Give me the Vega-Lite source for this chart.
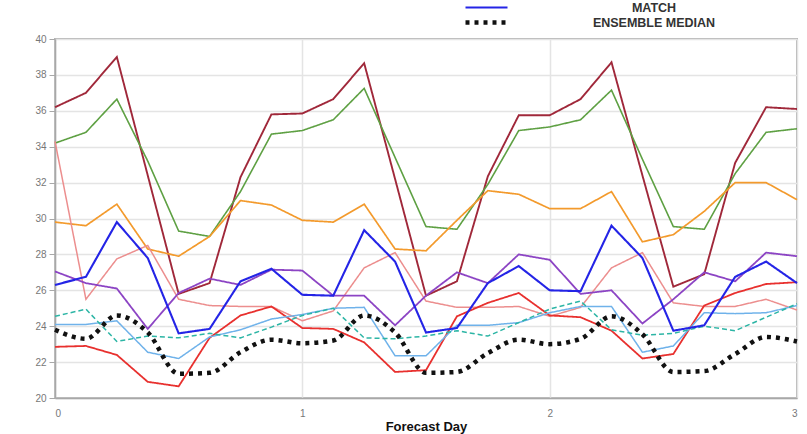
{
  "$schema": "https://vega.github.io/schema/vega-lite/v6.json",
  "width": 742,
  "height": 359,
  "autosize": {"type": "none"},
  "padding": {"left": 55, "top": 39, "right": 10, "bottom": 36},
  "background": "white",
  "config": {
    "font": "Liberation Sans",
    "view": {"stroke": "#b4b4b4", "strokeWidth": 2},
    "axis": {
      "gridColor": "#e4e4e4",
      "gridWidth": 1.5,
      "domainColor": "#a8a8a8",
      "domainWidth": 1.5,
      "tickColor": "#a8a8a8",
      "labelColor": "#777777",
      "labelFontSize": 10
    },
    "legend": {
      "title": null,
      "orient": "none",
      "legendX": 408,
      "legendY": -39,
      "padding": 0,
      "rowPadding": 0,
      "clipHeight": 15,
      "symbolType": "stroke",
      "symbolSize": 1764,
      "labelAlign": "center",
      "labelOffset": 144,
      "labelFont": "Liberation Sans",
      "labelFontSize": 12.5,
      "labelFontWeight": "bold",
      "labelColor": "#333333"
    }
  },
  "data": {
    "values": [
      {"day": 0.0,   "Run 1": 36.2,  "Run 2": 34.2,  "Run 3": 29.8,  "Run 4": 34.3,  "MATCH": 26.3,  "Run 5": 27.05, "Run 6": 22.85, "Run 7": 24.1,  "Run 8": 24.55, "ENSEMBLE MEDIAN": 23.8},
      {"day": 0.125, "Run 1": 37.0,  "Run 2": 34.8,  "Run 3": 29.6,  "Run 4": 25.5,  "MATCH": 26.75, "Run 5": 26.4,  "Run 6": 22.9,  "Run 7": 24.1,  "Run 8": 24.95, "ENSEMBLE MEDIAN": 23.3},
      {"day": 0.25,  "Run 1": 39.0,  "Run 2": 36.65, "Run 3": 30.8,  "Run 4": 27.75, "MATCH": 29.8,  "Run 5": 26.1,  "Run 6": 22.4,  "Run 7": 24.3,  "Run 8": 23.15, "ENSEMBLE MEDIAN": 24.6},
      {"day": 0.375, "Run 1": 32.4,  "Run 2": 33.2,  "Run 3": 28.3,  "Run 4": 28.5,  "MATCH": 27.8,  "Run 5": 23.85, "Run 6": 20.9,  "Run 7": 22.55, "Run 8": 23.45, "ENSEMBLE MEDIAN": 23.65},
      {"day": 0.5,   "Run 1": 25.8,  "Run 2": 29.3,  "Run 3": 27.9,  "Run 4": 25.5,  "MATCH": 23.6,  "Run 5": 25.85, "Run 6": 20.65, "Run 7": 22.2,  "Run 8": 23.35, "ENSEMBLE MEDIAN": 21.35},
      {"day": 0.625, "Run 1": 26.4,  "Run 2": 29.0,  "Run 3": 29.0,  "Run 4": 25.15, "MATCH": 23.85, "Run 5": 26.65, "Run 6": 23.35, "Run 7": 23.4,  "Run 8": 23.6,  "ENSEMBLE MEDIAN": 21.4},
      {"day": 0.75,  "Run 1": 32.3,  "Run 2": 31.5,  "Run 3": 31.0,  "Run 4": 25.1,  "MATCH": 26.5,  "Run 5": 26.3,  "Run 6": 24.6,  "Run 7": 23.8,  "Run 8": 23.35, "ENSEMBLE MEDIAN": 22.55},
      {"day": 0.875, "Run 1": 35.8,  "Run 2": 34.7,  "Run 3": 30.75, "Run 4": 25.1,  "MATCH": 27.2,  "Run 5": 27.15, "Run 6": 25.1,  "Run 7": 24.4,  "Run 8": 23.95, "ENSEMBLE MEDIAN": 23.25},
      {"day": 1.0,   "Run 1": 35.85, "Run 2": 34.9,  "Run 3": 29.9,  "Run 4": 24.3,  "MATCH": 25.75, "Run 5": 27.1,  "Run 6": 23.9,  "Run 7": 24.65, "Run 8": 24.6,  "ENSEMBLE MEDIAN": 23.05},
      {"day": 1.125, "Run 1": 36.65, "Run 2": 35.5,  "Run 3": 29.8,  "Run 4": 24.85, "MATCH": 25.7,  "Run 5": 25.7,  "Run 6": 23.85, "Run 7": 25.0,  "Run 8": 25.0,  "ENSEMBLE MEDIAN": 23.2},
      {"day": 1.25,  "Run 1": 38.65, "Run 2": 37.25, "Run 3": 30.8,  "Run 4": 27.25, "MATCH": 29.35, "Run 5": 25.7,  "Run 6": 23.1,  "Run 7": 25.05, "Run 8": 23.35, "ENSEMBLE MEDIAN": 24.6},
      {"day": 1.375, "Run 1": 32.2,  "Run 2": 33.4,  "Run 3": 28.3,  "Run 4": 28.1,  "MATCH": 27.6,  "Run 5": 24.05, "Run 6": 21.45, "Run 7": 22.35, "Run 8": 23.3,  "ENSEMBLE MEDIAN": 23.65},
      {"day": 1.5,   "Run 1": 25.7,  "Run 2": 29.55, "Run 3": 28.2,  "Run 4": 25.4,  "MATCH": 23.65, "Run 5": 25.7,  "Run 6": 21.55, "Run 7": 22.35, "Run 8": 23.45, "ENSEMBLE MEDIAN": 21.4},
      {"day": 1.625, "Run 1": 26.5,  "Run 2": 29.4,  "Run 3": 29.9,  "Run 4": 25.05, "MATCH": 23.9,  "Run 5": 27.0,  "Run 6": 24.55, "Run 7": 24.05, "Run 8": 23.75, "ENSEMBLE MEDIAN": 21.45},
      {"day": 1.75,  "Run 1": 32.35, "Run 2": 31.9,  "Run 3": 31.55, "Run 4": 25.05, "MATCH": 26.4,  "Run 5": 26.4,  "Run 6": 25.3,  "Run 7": 24.05, "Run 8": 23.45, "ENSEMBLE MEDIAN": 22.5},
      {"day": 1.875, "Run 1": 35.75, "Run 2": 34.9,  "Run 3": 31.35, "Run 4": 25.1,  "MATCH": 27.35, "Run 5": 28.0,  "Run 6": 25.85, "Run 7": 24.2,  "Run 8": 24.2,  "ENSEMBLE MEDIAN": 23.25},
      {"day": 2.0,   "Run 1": 35.75, "Run 2": 35.1,  "Run 3": 30.55, "Run 4": 24.55, "MATCH": 26.0,  "Run 5": 27.7,  "Run 6": 24.6,  "Run 7": 24.75, "Run 8": 24.95, "ENSEMBLE MEDIAN": 23.0},
      {"day": 2.125, "Run 1": 36.65, "Run 2": 35.5,  "Run 3": 30.55, "Run 4": 25.05, "MATCH": 25.95, "Run 5": 25.8,  "Run 6": 24.5,  "Run 7": 25.1,  "Run 8": 25.4,  "ENSEMBLE MEDIAN": 23.3},
      {"day": 2.25,  "Run 1": 38.7,  "Run 2": 37.15, "Run 3": 31.5,  "Run 4": 27.25, "MATCH": 29.6,  "Run 5": 26.0,  "Run 6": 23.75, "Run 7": 25.1,  "Run 8": 23.8,  "ENSEMBLE MEDIAN": 24.55},
      {"day": 2.375, "Run 1": 32.4,  "Run 2": 33.3,  "Run 3": 28.7,  "Run 4": 28.1,  "MATCH": 27.8,  "Run 5": 24.15, "Run 6": 22.2,  "Run 7": 22.55, "Run 8": 23.5,  "ENSEMBLE MEDIAN": 23.55},
      {"day": 2.5,   "Run 1": 26.2,  "Run 2": 29.55, "Run 3": 29.1,  "Run 4": 25.3,  "MATCH": 23.75, "Run 5": 25.5,  "Run 6": 22.45, "Run 7": 22.9,  "Run 8": 23.6,  "ENSEMBLE MEDIAN": 21.45},
      {"day": 2.625, "Run 1": 26.9,  "Run 2": 29.4,  "Run 3": 30.4,  "Run 4": 25.1,  "MATCH": 24.05, "Run 5": 27.0,  "Run 6": 25.15, "Run 7": 24.75, "Run 8": 24.0,  "ENSEMBLE MEDIAN": 21.5},
      {"day": 2.75,  "Run 1": 33.1,  "Run 2": 32.5,  "Run 3": 32.0,  "Run 4": 25.1,  "MATCH": 26.75, "Run 5": 26.5,  "Run 6": 25.85, "Run 7": 24.7,  "Run 8": 23.75, "ENSEMBLE MEDIAN": 22.45},
      {"day": 2.875, "Run 1": 36.2,  "Run 2": 34.8,  "Run 3": 32.0,  "Run 4": 25.5,  "MATCH": 27.6,  "Run 5": 28.1,  "Run 6": 26.35, "Run 7": 24.75, "Run 8": 24.5,  "ENSEMBLE MEDIAN": 23.4},
      {"day": 3.0,   "Run 1": 36.1,  "Run 2": 35.0,  "Run 3": 31.05, "Run 4": 24.9,  "MATCH": 26.4,  "Run 5": 27.9,  "Run 6": 26.45, "Run 7": 25.15, "Run 8": 25.25, "ENSEMBLE MEDIAN": 23.15}
    ]
  },
  "transform": [
    {"fold": ["Run 1", "Run 2", "Run 3", "Run 4", "Run 5", "Run 6", "Run 7", "Run 8", "MATCH", "ENSEMBLE MEDIAN"], "as": ["series", "temp"]}
  ],
  "encoding": {
    "x": {
      "field": "day",
      "type": "quantitative",
      "scale": {"domain": [0, 3], "nice": false, "zero": false},
      "axis": {
        "values": [0, 1, 2, 3],
        "format": "d",
        "title": "Forecast Day",
        "titleFontSize": 13,
        "titleFontWeight": "bold",
        "titleColor": "#111111",
        "titlePadding": 2,
        "ticks": false,
        "labelPadding": 10,
        "grid": true
      }
    },
    "y": {
      "field": "temp",
      "type": "quantitative",
      "scale": {"domain": [20, 40], "nice": false, "zero": false},
      "axis": {
        "values": [20, 22, 24, 26, 28, 30, 32, 34, 36, 38, 40],
        "title": null,
        "tickSize": 6,
        "labelPadding": 3,
        "grid": true
      }
    },
    "color": {
      "field": "series",
      "type": "nominal",
      "scale": {
        "domain": ["Run 1", "Run 2", "Run 3", "Run 4", "Run 5", "Run 6", "Run 7", "Run 8", "MATCH", "ENSEMBLE MEDIAN"],
        "range": ["#a0283a", "#5ea043", "#f39a2c", "#ec8e8e", "#8c44c4", "#e8302e", "#6fb2ea", "#2cb5a5", "#2424e6", "#111111"]
      },
      "legend": {"values": ["MATCH", "ENSEMBLE MEDIAN"]}
    },
    "strokeDash": {
      "field": "series",
      "type": "nominal",
      "scale": {
        "domain": ["Run 1", "Run 2", "Run 3", "Run 4", "Run 5", "Run 6", "Run 7", "Run 8", "MATCH", "ENSEMBLE MEDIAN"],
        "range": [[1, 0], [1, 0], [1, 0], [1, 0], [1, 0], [1, 0], [1, 0], [5, 3], [1, 0], [4, 5]]
      },
      "legend": {"values": ["MATCH", "ENSEMBLE MEDIAN"]}
    },
    "strokeWidth": {
      "field": "series",
      "type": "nominal",
      "scale": {
        "type": "ordinal",
        "domain": ["Run 1", "Run 2", "Run 3", "Run 4", "Run 5", "Run 6", "Run 7", "Run 8", "MATCH", "ENSEMBLE MEDIAN"],
        "range": [1.9, 1.6, 1.7, 1.5, 1.8, 1.8, 1.5, 1.5, 2.1, 4.5]
      },
      "legend": {"values": ["MATCH", "ENSEMBLE MEDIAN"]}
    }
  },
  "layer": [
    {
      "transform": [{"filter": "datum.series !== 'ENSEMBLE MEDIAN'"}],
      "mark": {"type": "line", "strokeCap": "butt", "strokeJoin": "miter"}
    },
    {
      "transform": [{"filter": "datum.series === 'ENSEMBLE MEDIAN'"}],
      "mark": {"type": "line", "interpolate": "monotone", "strokeCap": "butt"}
    }
  ]
}
